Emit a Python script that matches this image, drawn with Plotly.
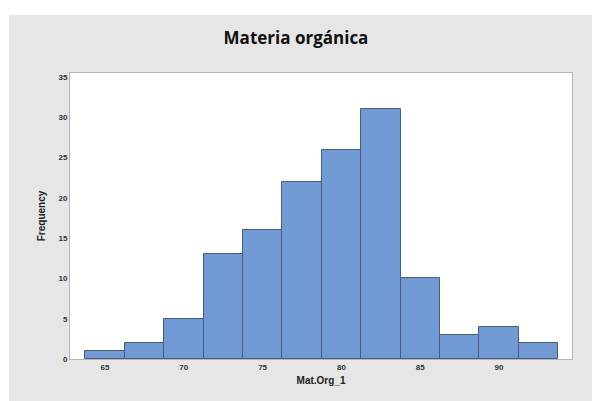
import plotly.graph_objects as go

# bin centres (width 2.5) and counts
bin_centers = [65, 67.5, 70, 72.5, 75, 77.5, 80, 82.5, 85, 87.5, 90, 92.5]
counts = [1, 2, 5, 13, 16, 22, 26, 31, 10, 3, 4, 2]
bin_width = 2.5

x_ticks = [65, 70, 75, 80, 85, 90]
y_ticks = [0, 5, 10, 15, 20, 25, 30, 35]

fig = go.Figure()
fig.add_trace(
    go.Bar(
        x=bin_centers,
        y=counts,
        width=bin_width,
        marker={"color": "#7199d3", "line": {"color": "#475c7e", "width": 1}},
        showlegend=False,
    )
)

tick_font = {"family": "Liberation Sans", "size": 8, "color": "#333333"}
title_font = {"family": "Liberation Sans", "size": 10, "color": "#222222"}

fig.update_layout(
    width=592,
    height=401,
    margin={"l": 70, "r": 20, "t": 73, "b": 42},
    paper_bgcolor="#e6e6e6",
    plot_bgcolor="white",
    bargap=0,
    title={
        "text": "<b>Materia orgánica</b>",
        "x": 0.5,
        "xanchor": "center",
        "y": 1 - 38 / 401,
        "yanchor": "middle",
        "font": {"family": "Open Sans", "size": 17, "color": "#111111"},
    },
    xaxis={
        "range": [62.78, 94.63],
        "tickvals": x_ticks,
        "ticktext": [f"<b>{v}</b>" for v in x_ticks],
        "tickfont": tick_font,
        "showgrid": False,
        "zeroline": False,
        "showline": True,
        "linecolor": "#b5b5b5",
        "linewidth": 1,
        "mirror": True,
        "ticks": "",
        "title": {"text": "<b>Mat.Org_1</b>", "font": title_font, "standoff": 6},
    },
    yaxis={
        "range": [0, 35.5],
        "tickvals": y_ticks,
        "ticktext": [f"<b>{v}</b>" for v in y_ticks],
        "tickfont": tick_font,
        "showgrid": False,
        "zeroline": False,
        "showline": True,
        "linecolor": "#b5b5b5",
        "linewidth": 1,
        "mirror": True,
        "ticks": "",
        "title": {"text": "<b>Frequency</b>", "font": title_font, "standoff": 10},
    },
    shapes=[
        # white strips outside the grey frame (top and left)
        {"type": "rect", "xref": "paper", "yref": "paper", "layer": "below",
         "x0": -0.2, "x1": 1.1, "y0": (359 - 15) / 286, "y1": 1.35,
         "fillcolor": "white", "line": {"width": 0}},
        {"type": "rect", "xref": "paper", "yref": "paper", "layer": "below",
         "x0": -0.2, "x1": (9 - 70) / 502, "y0": -0.2, "y1": 1.35,
         "fillcolor": "white", "line": {"width": 0}},
    ],
)

# drop the browser's default body margin and any scrollbars
page_fix = (
    "document.body.style.margin = '0';"
    "document.body.style.overflow = 'hidden';"
    "document.documentElement.style.overflow = 'hidden';"
)
fig.write_html("out.html", config={"displayModeBar": False}, post_script=page_fix)
